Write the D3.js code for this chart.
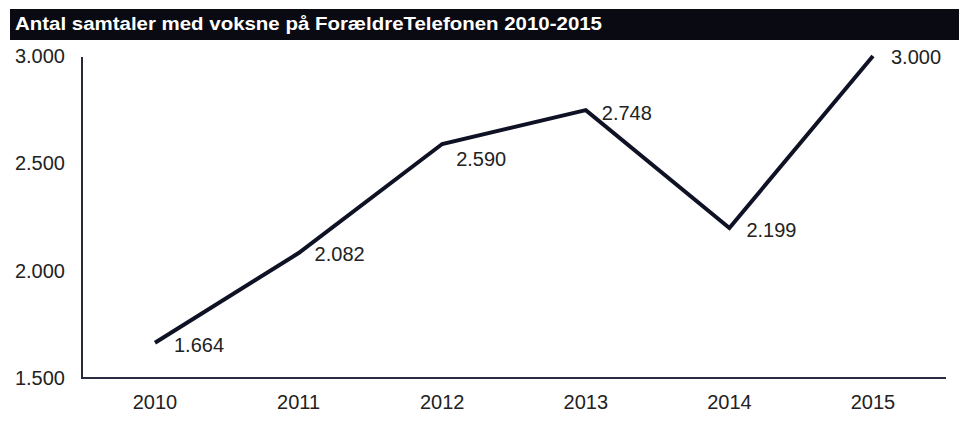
<!DOCTYPE html>
<html><head><meta charset="utf-8">
<script src="https://cdn.jsdelivr.net/npm/d3@7"></script>
<style>body{margin:0;background:#fff}svg{display:block;font-family:"Liberation Sans",Arial,sans-serif}</style>
</head><body>
<svg id="c" width="959" height="432"></svg>
<script>
const title = "Antal samtaler med voksne på ForældreTelefonen 2010-2015";
const years = [2010, 2011, 2012, 2013, 2014, 2015];
const values = [1664, 2082, 2590, 2748, 2199, 3000];
const yTicks = [1500, 2000, 2500, 3000];
const labelOffsets = [[19, 2], [16, 1], [14, 15], [16, 3], [17, 2], [18, 1]];

const svg = d3.select("#c");
const fmt = v => d3.format(",")(v).replace(/,/g, ".");
const x = d3.scaleLinear().domain([2010, 2015]).range([155, 873]);
const y = d3.scaleLinear().domain([1500, 3000]).range([378, 56]);

svg.append("rect").attr("x", 10).attr("y", 9).attr("width", 949).attr("height", 31).attr("fill", "#0a0a12");
svg.append("text").attr("x", 15).attr("y", 30).attr("fill", "#fff").attr("font-weight", "bold")
  .attr("font-size", 18).attr("textLength", 587).attr("lengthAdjust", "spacingAndGlyphs").text(title);

// axes
svg.append("line").attr("x1", 82).attr("x2", 82).attr("y1", 57).attr("y2", 379).attr("stroke", "#2a2a35").attr("stroke-width", 2);
svg.append("line").attr("x1", 81).attr("x2", 946).attr("y1", 378).attr("y2", 378).attr("stroke", "#2a2a40").attr("stroke-width", 2);

svg.selectAll(".yt").data(yTicks).join("text").attr("class", "yt")
  .attr("x", 65).attr("y", d => y(d)).attr("dy", "0.35em").attr("text-anchor", "end")
  .attr("font-size", 20).attr("fill", "#222").text(fmt);

svg.selectAll(".xt").data(years).join("text").attr("class", "xt")
  .attr("x", d => x(d)).attr("y", 409).attr("text-anchor", "middle")
  .attr("font-size", 20).attr("fill", "#222").text(d => d);

const line = d3.line().x((d, i) => x(years[i])).y(d => y(d));
svg.append("path").attr("d", line(values)).attr("fill", "none").attr("stroke", "#0e1224")
  .attr("stroke-width", 4).attr("stroke-linejoin", "miter");

svg.selectAll(".dl").data(values).join("text").attr("class", "dl")
  .attr("x", (d, i) => x(years[i]) + labelOffsets[i][0]).attr("y", (d, i) => y(d) + labelOffsets[i][1])
  .attr("dy", "0.35em").attr("font-size", 20).attr("fill", "#222").text(fmt);
</script>
</body></html>
